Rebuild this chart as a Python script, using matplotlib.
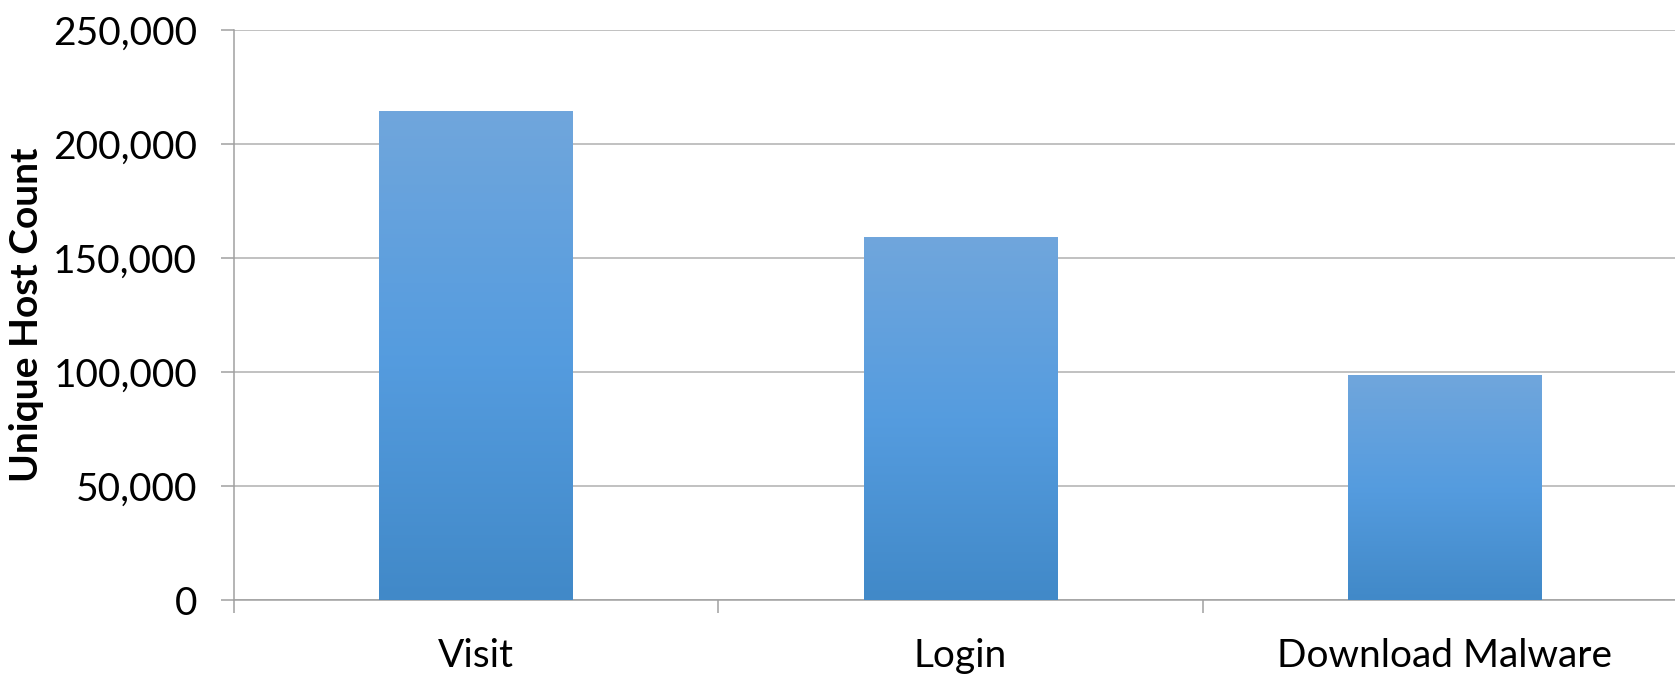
import matplotlib.pyplot as plt
import matplotlib.ticker as mticker
from matplotlib.colors import LinearSegmentedColormap
import numpy as np

categories = ['Visit', 'Login', 'Download Malware']
host_counts = [214000, 158800, 98300]
y_ticks = [0, 50000, 100000, 150000, 200000, 250000]

plt.rcParams['font.family'] = ['Lato', 'DejaVu Sans']

fig = plt.figure(figsize=(16.75, 6.74), dpi=100)
# plot area runs a little past the right edge, as in the original
ax = fig.add_axes([0.1397, 0.1093, 0.8675, 0.8463])

x = np.arange(len(categories))
bars = ax.bar(x, host_counts, width=0.4, color='none', edgecolor='none', zorder=3)

# vertical gradient fill for each bar
grad = LinearSegmentedColormap.from_list('bar', ['#4189c8', '#559cdf', '#70a6dc'])
g = np.linspace(0, 1, 256).reshape(-1, 1)
for b in bars:
    bx, by, bw, bh = b.get_x(), b.get_y(), b.get_width(), b.get_height()
    ax.imshow(g, cmap=grad, origin='lower', aspect='auto',
              extent=[bx, bx + bw, by, by + bh], zorder=3)

ax.set_xlim(-0.5, len(categories) - 0.5)
ax.set_ylim(0, 250000)
ax.set_yticks(y_ticks)
ax.yaxis.set_major_formatter(mticker.FuncFormatter(lambda v, p: f'{int(v):,}'))

ax.set_xticks(x)
ax.set_xticklabels(categories)
ax.set_xticks(np.arange(-0.5, len(categories) + 0.5, 1), minor=True)
ax.tick_params(axis='x', which='major', length=0, pad=27, labelsize=28)
ax.tick_params(axis='x', which='minor', length=9, width=1.1, color='#a0a0a0')
ax.tick_params(axis='y', length=9.5, width=1.1, color='#a0a0a0', pad=17, labelsize=28)

ax.grid(axis='y', color='#b0b0b0', linewidth=1.1, zorder=0)
ax.set_axisbelow(True)
for s in ['top', 'right']:
    ax.spines[s].set_visible(False)
for s in ['left', 'bottom']:
    ax.spines[s].set_color('#a0a0a0')
    ax.spines[s].set_linewidth(1.1)

ax.set_ylabel('Unique Host Count', fontsize=28, fontweight='bold')
ax.yaxis.set_label_coords(-0.131, 0.5)

fig.savefig('out.png', dpi=100)
